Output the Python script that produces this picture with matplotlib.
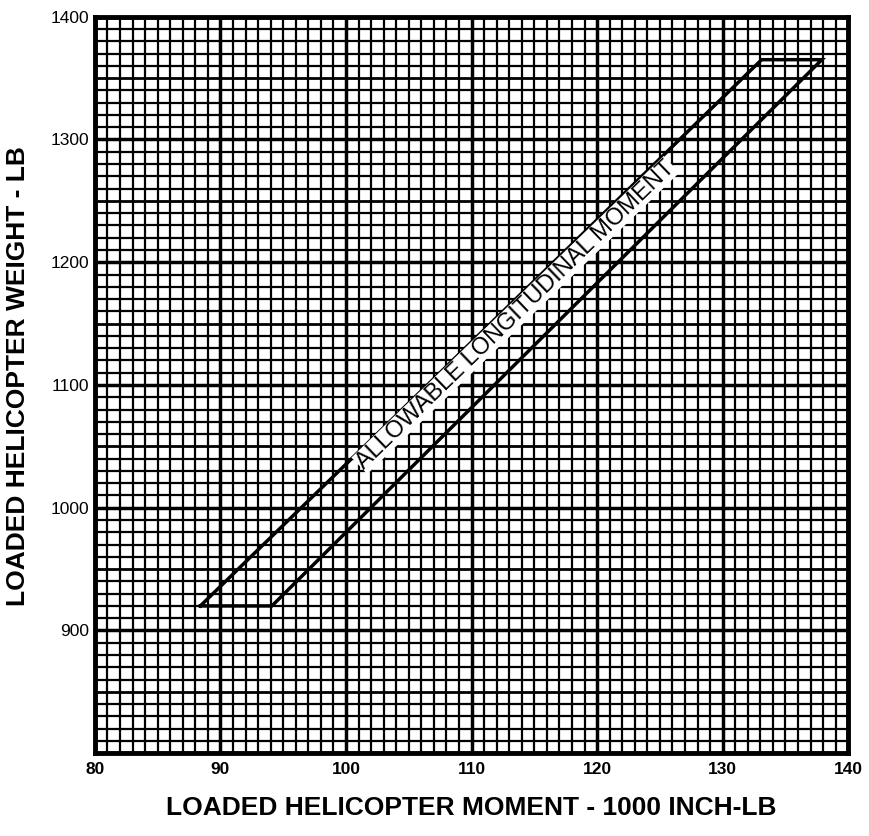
import numpy as np
import matplotlib
matplotlib.use('Agg')
import matplotlib.pyplot as plt

# envelope corners (moment in 1000 in-lb, weight in lb)
env_moment = [88.4, 133.1, 137.9, 94.1, 88.4]
env_weight = [920, 1365, 1365, 920, 920]

x_ticks = [80, 90, 100, 110, 120, 130, 140]
y_ticks = [900, 1000, 1100, 1200, 1300, 1400]

plt.rcParams['font.family'] = ['Liberation Sans', 'DejaVu Sans']

fig = plt.figure(figsize=(8.7, 8.36), dpi=100)
ax = fig.add_axes([0.109, 0.099, 0.866, 0.881])

ax.set_xlim(80, 140)
ax.set_ylim(800, 1400)

# graph paper grid
for xv in np.arange(80, 141, 1):
    lw = 2.5 if xv % 10 == 0 else 1.6
    ax.axvline(xv, color='black', lw=lw, zorder=1)
for yv in np.arange(800, 1401, 10):
    if yv % 100 == 0:
        lw = 2.5
    elif yv % 50 == 0:
        lw = 2.0
    else:
        lw = 1.6
    ax.axhline(yv, color='black', lw=lw, zorder=1)

ax.plot(env_moment, env_weight, color='black', lw=2.5, zorder=3,
        solid_joinstyle='miter')

ax.text(113.5, 1157, 'ALLOWABLE LONGITUDINAL MOMENT', rotation=44,
        rotation_mode='anchor', ha='center', va='center', fontsize=17,
        zorder=4, bbox=dict(facecolor='white', edgecolor='none', pad=0.3))

ax.set_xticks(x_ticks)
ax.set_yticks(y_ticks)
ax.set_xticklabels([str(v) for v in x_ticks], fontsize=12.5, fontweight='bold')
ax.set_yticklabels([str(v) for v in y_ticks], fontsize=12.5)
ax.tick_params(length=0, pad=6)
ax.tick_params(axis='y', pad=4)

for s in ax.spines.values():
    s.set_linewidth(3.5)
    s.set_zorder(5)

ax.set_xlabel('LOADED HELICOPTER MOMENT - 1000 INCH-LB', fontsize=19,
              fontweight='bold', va='center')
ax.xaxis.set_label_coords(0.5, -0.075)
ax.set_ylabel('LOADED HELICOPTER WEIGHT - LB', fontsize=19,
              fontweight='bold', va='center')
ax.yaxis.set_label_coords(-0.102, 0.512)

plt.savefig('out.png', dpi=100, facecolor='white')
plt.close()
